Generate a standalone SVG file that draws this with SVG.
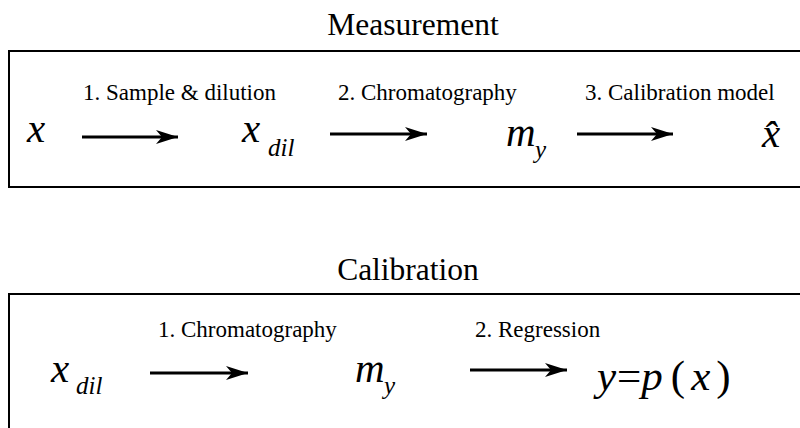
<svg xmlns="http://www.w3.org/2000/svg" width="800" height="428" viewBox="0 0 800 428" font-family="Liberation Serif, Times New Roman, DejaVu Serif, serif">
<defs>
<style>
text{font-family:'Liberation Serif','Times New Roman','DejaVu Serif',serif;fill:#000}
.title{font-size:31.5px}
.lbl{font-size:23px}
.m{font-style:italic;font-size:41px}
.up{font-style:normal}
.sub{font-style:italic;font-size:25px}
.box{fill:none;stroke:#000;stroke-width:2}
.arr{stroke:#000;stroke-width:3;fill:none;marker-end:url(#ah)}
</style>
<marker id="ah" markerUnits="userSpaceOnUse" markerWidth="24" markerHeight="16" refX="22" refY="7" orient="auto">
<path d="M0,0 L22,7 L0,14 L6,7 Z" fill="#000"/>
</marker>
</defs>
<g id="measurement">
<text class="title" x="413" y="35" text-anchor="middle">Measurement</text>
<path class="box" d="M801,51 H9 V187 H801"/>
<text class="lbl" x="83" y="100">1. Sample &amp; dilution</text>
<text class="lbl" x="338" y="100">2. Chromatography</text>
<text class="lbl" x="585" y="100">3. Calibration model</text>
<g id="m-x"><text class="m" x="27" y="142">x</text></g>
<g id="m-xdil"><text class="m" x="242" y="142">x</text><text class="sub" x="268" y="156">dil</text></g>
<g id="m-my"><text class="m" x="506" y="146">m</text><text class="sub" x="535" y="158">y</text></g>
<g id="m-xhat"><text class="m" x="762" y="147">x̂</text></g>
</g>
<g id="calibration">
<text class="title" x="408" y="280" text-anchor="middle">Calibration</text>
<path class="box" d="M801,294 H9 V430"/>
<text class="lbl" x="158" y="337">1. Chromatography</text>
<text class="lbl" x="475" y="337">2. Regression</text>
<g id="c-xdil"><text class="m" x="51" y="382">x</text><text class="sub" x="76" y="394">dil</text></g>
<g id="c-my"><text class="m" x="355" y="382">m</text><text class="sub" x="384" y="394">y</text></g>
<g id="c-eq"><text class="m" x="597" y="390" style="font-size:43px">y<tspan class="up" dx="1">=</tspan>p<tspan class="up" dx="8">(</tspan><tspan dx="6">x</tspan><tspan class="up" dx="6">)</tspan></text></g>
</g>
<g id="connectors">
<line class="arr" x1="82" y1="137" x2="178" y2="137"/>
<line class="arr" x1="330" y1="134" x2="427" y2="134"/>
<line class="arr" x1="577" y1="134" x2="673" y2="134"/>
<line class="arr" x1="150" y1="373" x2="248" y2="373"/>
<line class="arr" x1="470" y1="370" x2="567" y2="370"/>
</g>
</svg>
